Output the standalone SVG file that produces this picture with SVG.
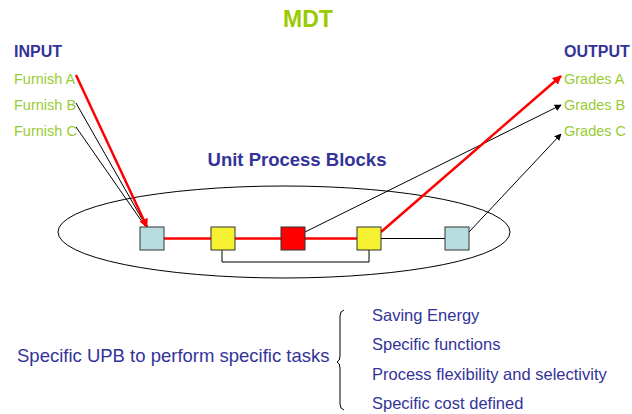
<svg xmlns="http://www.w3.org/2000/svg" width="632" height="414" viewBox="0 0 632 414">
<style>
text{font-family:"Liberation Sans",Arial,sans-serif}
.head{font-weight:bold;font-size:16px;fill:#333399}
.item{font-size:14.5px;fill:#99cc33}
.list{font-size:16.5px;fill:#333399}
.box{stroke:#333;stroke-width:1}
.blk{stroke:#000;stroke-width:1;fill:none}
.red{stroke:#ff0000;stroke-width:2.5;fill:none}
</style>
<defs>
<marker id="ab" viewBox="0 0 10 10" refX="9" refY="5" markerWidth="7" markerHeight="7" orient="auto" markerUnits="userSpaceOnUse"><path d="M0,0L10,5L0,10z" fill="#000"/></marker>
<marker id="ar" viewBox="0 0 10 10" refX="9" refY="5" markerWidth="9" markerHeight="9" orient="auto" markerUnits="userSpaceOnUse"><path d="M0,0L10,5L0,10z" fill="#ff0000"/></marker>
</defs>
<rect width="632" height="414" fill="#fff"/>
<text x="308" y="27" text-anchor="middle" font-size="23" font-weight="bold" fill="#99cc00">MDT</text>
<g id="input">
<text class="head" x="14" y="57">INPUT</text>
<text class="item" x="14" y="84">Furnish A</text>
<text class="item" x="14" y="110">Furnish B</text>
<text class="item" x="14" y="136">Furnish C</text>
</g>
<g id="output">
<text class="head" x="564" y="57">OUTPUT</text>
<text class="item" x="564" y="84">Grades A</text>
<text class="item" x="564" y="110">Grades B</text>
<text class="item" x="564" y="136">Grades C</text>
</g>
<g id="upb">
<ellipse cx="284" cy="232" rx="226" ry="46" fill="none" stroke="#000" stroke-width="1"/>
<text x="297" y="166" text-anchor="middle" font-size="18.5" font-weight="bold" fill="#333399">Unit Process Blocks</text>
</g>
<g id="connectors">
<line class="blk" x1="76" y1="103" x2="146" y2="226"/>
<line class="blk" x1="76" y1="127" x2="145" y2="226"/>
<line class="red" x1="76" y1="75" x2="147" y2="227" marker-end="url(#ar)"/>
<line class="red" x1="164" y1="238.5" x2="357" y2="238.5"/>
<line class="blk" x1="381" y1="238.5" x2="445" y2="238.5" stroke="#333"/>
<polyline class="blk" points="222,250 222,262 369,262 369,250" stroke="#333"/>
<line class="blk" x1="305" y1="232" x2="561" y2="105" marker-end="url(#ab)"/>
<line class="red" x1="381" y1="232" x2="561" y2="76" marker-end="url(#ar)"/>
<line class="blk" x1="469" y1="232" x2="561" y2="134" marker-end="url(#ab)"/>
</g>
<g id="b1"><rect class="box" x="140" y="227" width="24" height="23" fill="#b8dde1"/></g>
<g id="b2"><rect class="box" x="211" y="227" width="24" height="23" fill="#f5f032"/></g>
<g id="b3"><rect class="box" x="281" y="227" width="24" height="23" fill="#ff0000"/></g>
<g id="b4"><rect class="box" x="357" y="227" width="24" height="23" fill="#f5f032"/></g>
<g id="b5"><rect class="box" x="445" y="227" width="24" height="23" fill="#b8dde1"/></g>
<g id="tasks">
<text x="17" y="362" font-size="18.5" fill="#333399">Specific UPB to perform specific tasks</text>
<path d="M344,310 Q340,311 340,316 L340,356 Q340,361 337,362 Q340,363 340,368 L340,404 Q340,409 344,410" fill="none" stroke="#000" stroke-width="1"/>
<text class="list" x="372" y="321">Saving Energy</text>
<text class="list" x="372" y="350">Specific functions</text>
<text class="list" x="372" y="380">Process flexibility and selectivity</text>
<text class="list" x="372" y="409">Specific cost defined</text>
</g>
</svg>
